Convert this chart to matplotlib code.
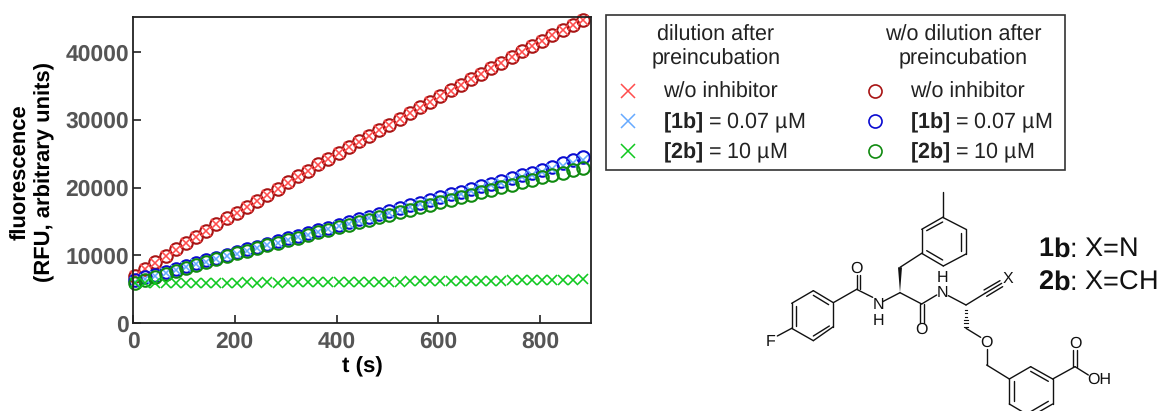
import matplotlib
matplotlib.use('Agg')
import matplotlib.pyplot as plt
from matplotlib.patches import Polygon, Rectangle

plt.rcParams['font.family'] = ['Liberation Sans', 'DejaVu Sans']
plt.rcParams['mathtext.fontset'] = 'custom'
plt.rcParams['mathtext.rm'] = 'Liberation Sans'
plt.rcParams['mathtext.bf'] = 'Liberation Sans:bold'
plt.rcParams['text.hinting'] = 'none'

t = [4, 24, 44, 64, 84, 104, 124, 144, 164, 184, 204, 224, 244, 264, 284,
     304, 324, 344, 364, 384, 404, 424, 444, 464, 484, 504, 524, 544, 564,
     584, 604, 624, 644, 664, 684, 704, 724, 744, 764, 784, 804, 824, 844,
     864, 884]

red_circle = [7000, 8000, 8950, 9950, 10900, 11850, 12750, 13650, 14600, 15450,
              16300, 17150, 18050, 18950, 19850, 20750, 21650, 22500, 23400, 24250,
              25100, 25950, 26800, 27600, 28450, 29300, 30150, 31000, 31850, 32650,
              33500, 34350, 35150, 35950, 36800, 37600, 38450, 39250, 40100, 40900,
              41700, 42500, 43300, 44050, 44800]
red_cross = [6900, 7950, 8900, 9900, 10850, 11800, 12750, 13600, 14550, 15400,
             16300, 17150, 18000, 18900, 19800, 20700, 21600, 22500, 23350, 24200,
             25100, 25950, 26750, 27600, 28450, 29250, 30100, 30950, 31800, 32650,
             33450, 34300, 35150, 35950, 36750, 37600, 38400, 39250, 40050, 40850,
             41700, 42500, 43250, 44000, 44750]
blue_circle = [6300, 6750, 7150, 7600, 8000, 8400, 8850, 9250, 9650, 10050,
               10480, 10880, 11280, 11680, 12080, 12480, 12880, 13280, 13680, 14070,
               14465, 14880, 15290, 15700, 16120, 16530, 16940, 17360, 17770, 18190,
               18600, 19000, 19400, 19800, 20190, 20590, 20990, 21390, 21790, 22180,
               22580, 23050, 23550, 24050, 24500]
blue_cross = [6100, 6550, 6950, 7400, 7800, 8200, 8650, 9050, 9450, 9850,
              10250, 10650, 11050, 11450, 11850, 12250, 12650, 13050, 13450, 13850,
              14250, 14650, 15050, 15450, 15850, 16250, 16650, 17100, 17500, 17900,
              18300, 18700, 19100, 19500, 19900, 20300, 20700, 21100, 21500, 21900,
              22300, 22750, 23200, 23650, 24100]
green_circle = [5900, 6350, 6800, 7250, 7700, 8150, 8550, 9000, 9450, 9900,
                10300, 10700, 11080, 11470, 11850, 12240, 12620, 13010, 13400, 13790,
                14170, 14540, 14900, 15270, 15640, 16010, 16380, 16750, 17120, 17490,
                17860, 18230, 18590, 18950, 19320, 19680, 20050, 20410, 20770, 21140,
                21500, 21850, 22200, 22550, 22880]
green_cross = [5900, 5950, 5900, 5950, 5900, 5950, 5900, 5950, 5950, 5950,
               5950, 6000, 5950, 6000, 5950, 6000, 6000, 6000, 6000, 6050,
               6050, 6050, 6050, 6100, 6100, 6100, 6100, 6150, 6150, 6150,
               6150, 6200, 6200, 6200, 6250, 6250, 6250, 6300, 6300, 6300,
               6350, 6350, 6400, 6400, 6450]

RED_X, RED_O = '#ff4d4d', '#a81414'
BLUE_X, BLUE_O = '#66aaff', '#0a0ad0'
GREEN_X, GREEN_O = '#10c820', '#108a10'

fig = plt.figure(figsize=(11.57, 4.11), dpi=100)
W, H = 1157.0, 411.0

# main plot
ax = fig.add_axes([133 / W, 1 - 323 / H, 458 / W, 305.5 / H])
ax.set_xlim(0, 900)
ax.set_ylim(0, 45100)

series = [(red_circle, 'o', RED_O), (red_cross, 'x', RED_X),
          (blue_circle, 'o', BLUE_O), (blue_cross, 'x', BLUE_X),
          (green_circle, 'o', GREEN_O), (green_cross, 'x', GREEN_X)]
for vals, m, c in series:
    if m == 'o':
        ax.plot(t, vals, ls='none', marker=m, ms=9.0, mfc='none', mec=c, mew=1.5, clip_on=False)
    else:
        ax.plot(t, vals, ls='none', marker=m, ms=7.6, mfc='none', mec=c, mew=1.15, clip_on=False)

ax.set_xticks([0, 200, 400, 600, 800])
ax.set_yticks([0, 10000, 20000, 30000, 40000])
ax.tick_params(direction='in', length=6, width=1.2, color='#222222', labelcolor='#555555')
ax.tick_params(axis='x', pad=6)
ax.tick_params(axis='y', pad=3)
for lab in ax.get_xticklabels() + ax.get_yticklabels():
    lab.set_fontsize(16.5)
    lab.set_fontweight('bold')
for s in ax.spines.values():
    s.set_linewidth(1.3)
    s.set_color('#222222')

# axis titles placed by hand to sit where the original has them
fig.text(362 / W, 1 - 367 / H, 't (s)', fontsize=16, fontweight='bold', ha='center', va='center')
fig.text(33 / W, 1 - 172 / H, 'fluorescence\n(RFU, arbitrary units)', fontsize=15.8, fontweight='bold',
         rotation=90, ha='center', va='center', ma='center', linespacing=1.2)

# overlay in pixel coordinates for the legend box and the structure
ov = fig.add_axes([0, 0, 1, 1], zorder=5)
ov.set_xlim(0, W)
ov.set_ylim(H, 0)
ov.axis('off')

ov.add_patch(Rectangle((606, 15), 459, 155, fill=False, ec='#333333', lw=1.2))
TXT = '#222222'
LEG = 15.5
for cx, head in [(716, 'dilution after\npreincubation'), (963, 'w/o dilution after\npreincubation')]:
    ov.text(cx, 47, head, ha='center', va='center', fontsize=LEG, color=TXT, linespacing=1.25)

legend_labels = ['w/o inhibitor', r'$\mathbf{[1b]}$ = 0.07 µM', r'$\mathbf{[2b]}$ = 10 µM']
legend_y = [91, 121, 151]
for lab, y, c1, c2 in zip(legend_labels, legend_y, [RED_X, BLUE_X, GREEN_X], [RED_O, BLUE_O, GREEN_O]):
    ov.plot([628], [y], marker='x', ms=9.4, mfc='none', mec=c1, mew=1.1, ls='none')
    ov.plot([875], [y], marker='o', ms=9.4, mfc='none', mec=c2, mew=1.2, ls='none')
    ov.text(663, y + 1.5, lab, ha='left', va='center', fontsize=LEG, color=TXT)
    ov.text(910, y + 1.5, lab, ha='left', va='center', fontsize=LEG, color=TXT)


# structure, coordinates taken in the 3x crop of the lower right corner
def px(p):
    return 750 + p[0] / 3.0, 180 + p[1] / 3.0


bonds = [
    ((578, 35), (578, 112)),
    ((578, 112), (648, 148)), ((648, 148), (648, 222)), ((648, 222), (580, 258)),
    ((580, 258), (515, 220)), ((515, 220), (515, 148)), ((515, 148), (578, 112)),
    ((530, 152), (578, 126)), ((633, 158), (633, 212)), ((530, 212), (578, 240)),
    ((515, 220), (450, 262)),
    ((450, 338), (398, 365)), ((368, 352), (320, 328)),
    ((320, 328), (320, 285)), ((331, 328), (331, 285)),
    ((320, 328), (250, 368)),
    ((190, 332), (250, 368)), ((250, 368), (250, 440)), ((250, 440), (190, 482)),
    ((190, 482), (125, 445)), ((125, 445), (125, 370)), ((125, 370), (190, 332)),
    ((190, 346), (236, 374)), ((138, 378), (138, 438)), ((190, 468), (238, 438)),
    ((125, 445), (82, 468)),
    ((450, 338), (515, 372)),
    ((509, 372), (509, 430)), ((521, 372), (521, 430)),
    ((515, 372), (560, 345)), ((595, 347), (648, 375)),
    ((648, 375), (705, 340)),
    ((705, 340), (755, 310)), ((702, 330), (750, 302)), ((710, 349), (758, 320)),
    ((648, 445), (692, 472)), ((710, 508), (710, 555)), ((710, 555), (778, 597)),
    ((778, 597), (842, 560)), ((842, 560), (908, 597)), ((908, 597), (908, 672)),
    ((908, 672), (842, 710)), ((842, 710), (778, 672)), ((778, 672), (778, 597)),
    ((792, 604), (792, 664)), ((842, 574), (895, 604)), ((895, 664), (842, 695)),
    ((908, 597), (975, 560)),
    ((970, 560), (970, 510)), ((981, 560), (981, 510)),
    ((975, 560), (1015, 585)),
]
for a, b in bonds:
    xa, ya = px(a)
    xb, yb = px(b)
    ov.plot([xa, xb], [ya, yb], color='#111111', lw=1.0, solid_capstyle='round')

ov.add_patch(Polygon([px((450, 338)), px((444, 262)), px((456, 262))], closed=True, fc='#111111', ec='none'))
for i in range(7):
    yh = 380 + i * 10
    half = 1 + i * 1.0
    xa, ya = px((648 - half, yh))
    xb, yb = px((648 + half, yh))
    ov.plot([xa, xb], [ya, yb], color='#111111', lw=0.8)

atoms = [('F', 62, 487), ('N', 385, 375), ('H', 385, 422), ('O', 318, 265), ('O', 515, 450),
         ('N', 578, 338), ('H', 578, 295), ('X', 773, 298), ('O', 710, 488), ('O', 975, 490),
         ('OH', 1047, 600)]
for s, x, y in atoms:
    xp, yp = px((x, y))
    ov.text(xp, yp, s, ha='center', va='center', fontsize=11.5, color='#111111')

ov.text(1038, 250, r'$\mathbf{1b}$: X=N', ha='left', va='center', fontsize=19.5, color='#111111')
ov.text(1038, 283, r'$\mathbf{2b}$: X=CH', ha='left', va='center', fontsize=19.5, color='#111111')

fig.savefig('out.png', dpi=100)
